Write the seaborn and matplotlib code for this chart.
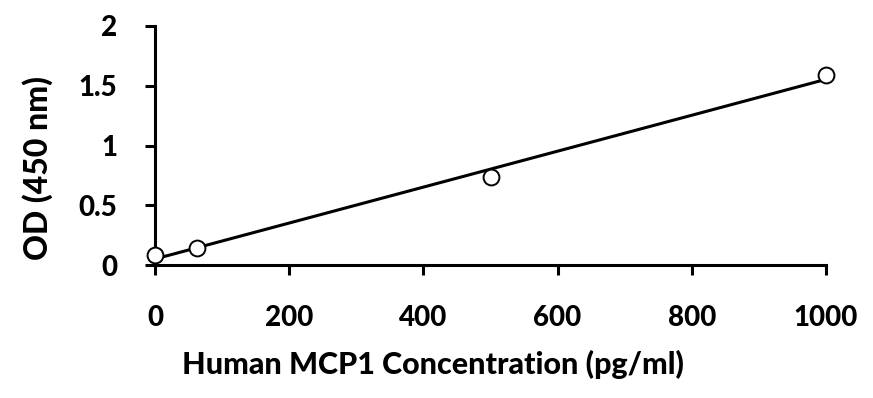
import numpy as np
import pandas as pd
import seaborn as sns
import matplotlib
matplotlib.use('Agg')
import matplotlib.pyplot as plt

# standard curve readings
concentration = [0, 62.5, 500, 1000]  # pg/ml
od_450 = [0.084, 0.145, 0.734, 1.588]

x_ticks = [0, 200, 400, 600, 800, 1000]
y_ticks = [0, 0.5, 1, 1.5, 2]
y_tick_labels = ['0', '0.5', '1', '1.5', '2']

sns.set_style('white')
plt.rcParams['font.family'] = ['Lato', 'DejaVu Sans']
plt.rcParams['font.weight'] = 'black'
plt.rcParams['text.color'] = 'black'
plt.rcParams['axes.labelcolor'] = 'black'
plt.rcParams['xtick.color'] = 'black'
plt.rcParams['ytick.color'] = 'black'

df = pd.DataFrame({'conc': concentration, 'od': od_450})

fig = plt.figure(figsize=(8.73, 3.98), dpi=100)
ax = fig.add_axes([155 / 873, 1 - 265 / 398, (826 - 155) / 873, (265 - 26) / 398])

sns.regplot(data=df, x='conc', y='od', ax=ax, ci=None, truncate=True,
            scatter_kws={'s': 130, 'facecolors': 'white', 'edgecolors': 'black',
                         'linewidths': 1.4, 'alpha': 1, 'zorder': 3, 'clip_on': False},
            line_kws={'color': 'black', 'lw': 2.2, 'zorder': 2})

ax.set_xlim(0, 1000)
ax.set_ylim(0, 2)
ax.set_xticks(x_ticks)
ax.set_yticks(y_ticks)
ax.set_yticklabels(y_tick_labels)
ax.tick_params(axis='both', direction='out', length=7, width=2.2, color='black',
               labelsize=20, bottom=True, left=True, labelcolor='black')
ax.tick_params(axis='x', pad=22)
ax.tick_params(axis='y', pad=20)
for lbl in ax.get_xticklabels() + ax.get_yticklabels():
    lbl.set_fontweight('black')

for side in ['top', 'right']:
    ax.spines[side].set_visible(False)
for side in ['left', 'bottom']:
    ax.spines[side].set_linewidth(2.2)
    ax.spines[side].set_color('black')

ax.set_xlabel('Human MCP1 Concentration (pg/ml)', fontsize=22, fontweight='black')
ax.set_ylabel('OD (450 nm)', fontsize=23, fontweight='black')
# label anchors placed in figure pixels, as in the reference
ax.xaxis.set_label_coords(433 / 873, 1 - 350 / 398, transform=fig.transFigure)
ax.yaxis.set_label_coords(53 / 873, 1 - 168 / 398, transform=fig.transFigure)

fig.savefig('out.png', dpi=100)
